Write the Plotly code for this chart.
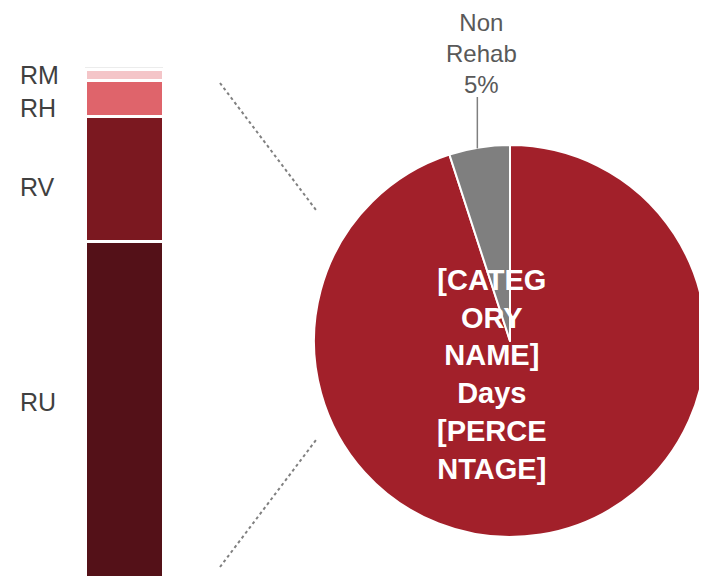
import math
import plotly.graph_objects as go

# ---- data ----
bar_categories = ["RU", "RV", "RH", "RM"]
bar_values = [66.0, 24.7, 7.0, 2.3]
bar_colors = ["#541118", "#7b1820", "#df646b", "#f4c5c8"]

pie_labels = ["Rehab", "Non Rehab"]
pie_values = [95, 5]
pie_colors = ["#a2202a", "#7f7f7f"]
pie_main_text = ["[CATEG", "ORY", "NAME]", "Days", "[PERCE", "NTAGE]"]

# page body has an 8px margin; work in window pixels and convert
OFF = 8
W, H = 707 - OFF, 577 - OFF

def px(x):
    return (x - OFF) / W

def py(y):
    return 1 - (y - OFF) / H

fig = go.Figure()

for cat, val, col in zip(bar_categories, bar_values, bar_colors):
    fig.add_trace(go.Bar(
        x=[0], y=[val], name=cat, width=1,
        marker=dict(color=col, line=dict(color="white", width=3)),
        hoverinfo="name+y",
    ))

# pie geometry (window pixels)
cx, cy, r = 510, 341, 196
fig.add_trace(go.Pie(
    labels=pie_labels, values=pie_values, sort=False,
    direction="clockwise", rotation=0,
    marker=dict(colors=pie_colors, line=dict(color="white", width=2)),
    textinfo="none", hoverinfo="label+percent",
    domain=dict(x=[px(cx - r), px(cx + r)], y=[py(cy + r), py(cy - r)]),
))

total_bar = sum(bar_values)
bar_top_px = 69 - OFF
ymax = total_bar * H / (H - bar_top_px)

annotations = []
shifts = {"RU": 7, "RV": -8, "RH": -10, "RM": 0}
cum = 0
for cat, val in zip(bar_categories, bar_values):
    mid = cum + val / 2
    cum += val
    annotations.append(dict(
        x=px(18), xref="paper", xanchor="left",
        y=mid, yref="y", yanchor="middle", yshift=shifts[cat],
        text=cat, showarrow=False,
        font=dict(family="Liberation Sans, Arial", size=25, color="#404040"),
    ))

# non-rehab label and leader line from slice mid-angle
pie_total = sum(pie_values)
frac = pie_values[1] / pie_total
ang = math.radians(frac * 360 / 2)
lx = cx - r * math.sin(ang)
ly = cy - r * math.cos(ang)
annotations.append(dict(
    x=px(481), y=1, xref="paper", yref="paper",
    xanchor="center", yanchor="top", borderpad=0,
    text=f"Non<br>Rehab<br>{round(frac * 100)}%", showarrow=False,
    font=dict(family="Liberation Sans, Arial", size=24, color="#595959"),
))
annotations.append(dict(
    x=px(492), y=py(374), xref="paper", yref="paper",
    xanchor="center", yanchor="middle",
    text="<b>" + "<br>".join(pie_main_text) + "</b>", showarrow=False,
    font=dict(family="Liberation Sans, Arial", size=29, color="white"),
))

shapes = [
    dict(type="line", xref="paper", yref="paper",
         x0=px(lx - 2), y0=py(ly + 1), x1=px(lx - 2), y1=py(97),
         line=dict(color="#7f7f7f", width=1.5)),
    dict(type="line", xref="paper", yref="paper",
         x0=px(220), y0=py(83), x1=px(316), y1=py(210),
         line=dict(color="#808080", width=2, dash="dot")),
    dict(type="line", xref="paper", yref="paper",
         x0=px(220), y0=py(567), x1=px(316), y1=py(440),
         line=dict(color="#808080", width=2, dash="dot")),
    dict(type="rect", xref="x", yref="y",
         x0=-0.52, x1=0.52, y0=-1, y1=total_bar + 0.3,
         line=dict(color="#ececec", width=1), layer="below"),
]

fig.update_layout(
    width=W, height=H,
    margin=dict(l=0, r=0, t=0, b=0),
    paper_bgcolor="white", plot_bgcolor="white",
    barmode="stack", showlegend=False,
    xaxis=dict(domain=[px(85), px(163)], range=[-0.5, 0.5], visible=False, fixedrange=True),
    yaxis=dict(domain=[0, 1], range=[0, ymax], visible=False, fixedrange=True),
    annotations=annotations, shapes=shapes,
)

fig.write_html("out.html")
